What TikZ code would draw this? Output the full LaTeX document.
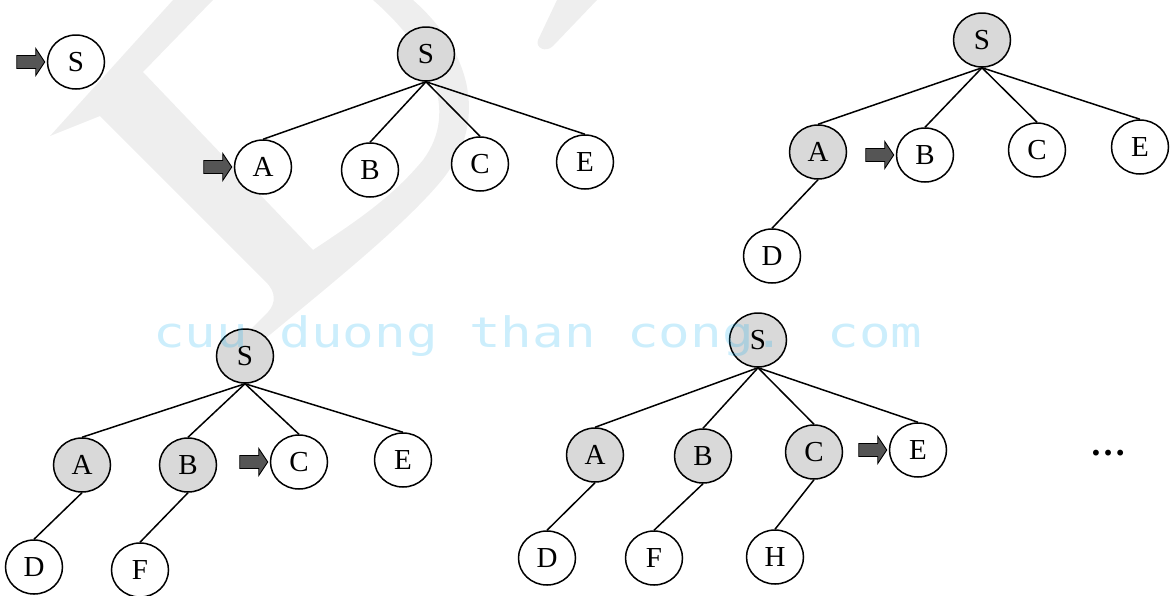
\documentclass[tikz,border=0pt]{standalone}
\usepackage{fontspec}
\setmainfont{Liberation Serif}
\newfontfamily\wmfont{DejaVu Sans Mono}
\usetikzlibrary{shapes.geometric}
\definecolor{visited}{gray}{0.85}
\definecolor{pointerfill}{RGB}{85,85,85}
\definecolor{wmgray}{gray}{0.935}
\definecolor{wmcyan}{RGB}{0,170,240}
\begin{document}
\begin{tikzpicture}[x=1pt,y=-1pt,
  state/.style={ellipse, draw, line width=1.5pt, fill=white,
    minimum width=57pt, minimum height=54pt, inner sep=0pt,
    font=\fontsize{29}{30}\selectfont},
  done/.style={state, fill=visited},
  link/.style={line width=1.5pt},
  ptr/.style={draw, line width=0.9pt, fill=pointerfill, line join=miter},
  pointer/.pic={\path[ptr] (-28,-6.5) -- (-9,-6.5) -- (-9,-13.5) -- (0,0)
    -- (-9,13.5) -- (-9,6.5) -- (-28,6.5) -- cycle;}
]
\useasboundingbox (0,0) rectangle (1172,595);

% faint background letter
\fill[wmgray] (173,0) -- (50,136) -- (100,116) -- (266,282)
  .. controls (276,292) and (276,303) .. (268,312) -- (248,332) -- (266,338)
  .. controls (330,285) and (405,225) .. (442,180)
  .. controls (490,120) and (470,50) .. (413,0)
  -- (373,0)
  .. controls (430,50) and (460,110) .. (423,160)
  .. controls (390,200) and (350,225) .. (313,250)
  -- (143,72) -- (213,0) -- cycle;
\fill[wmgray] (557,0) -- (538,40) .. controls (535,48) and (546,53) .. (553,46)
  -- (597,0) -- cycle;

% step 0
\node[state] (p0s) at (76,62) {S};

% step 1
\node[done]  (p1s) at (426,54) {S};
\node[state] (p1a) at (263,167) {A};
\node[state] (p1b) at (370,170) {B};
\node[state] (p1c) at (480,164) {C};
\node[state] (p1e) at (585,162) {E};

% step 2
\node[done]  (p2s) at (982,40) {S};
\node[done]  (p2a) at (818,152) {A};
\node[state] (p2b) at (925,155) {B};
\node[state] (p2c) at (1037,150) {C};
\node[state] (p2e) at (1140,147) {E};
\node[state] (p2d) at (772,256) {D};

% step 3
\node[done]  (p3s) at (245,356) {S};
\node[done]  (p3a) at (82,465) {A};
\node[done]  (p3b) at (188,465) {B};
\node[state] (p3c) at (299,462) {C};
\node[state] (p3e) at (403,460) {E};
\node[state] (p3d) at (34,567) {D};
\node[state] (p3f) at (140,570) {F};

% step 4
\node[done]  (p4s) at (758,340) {S};
\node[done]  (p4a) at (595,455) {A};
\node[done]  (p4b) at (703,456) {B};
\node[done]  (p4c) at (814,452) {C};
\node[state] (p4e) at (918,450) {E};
\node[state] (p4d) at (547,558) {D};
\node[state] (p4f) at (654,558) {F};
\node[state] (p4h) at (775,557) {H};
\node[font=\fontsize{36}{40}\selectfont\bfseries] (more) at (1108,453) {…};

% tree edges
\foreach \c in {a,b,c,e} \draw[link] (p1s.south) -- (p1\c.north);
\foreach \c in {a,b,c,e} \draw[link] (p2s.south) -- (p2\c.north);
\draw[link] (p2a.south) -- (p2d.north);
\foreach \c in {a,b,c,e} \draw[link] (p3s.south) -- (p3\c.north);
\draw[link] (p3a.south) -- (p3d.north);
\draw[link] (p3b.south) -- (p3f.north);
\foreach \c in {a,b,c,e} \draw[link] (p4s.south) -- (p4\c.north);
\draw[link] (p4a.south) -- (p4d.north);
\draw[link] (p4b.south) -- (p4f.north);
\draw[link] (p4c.south) -- (p4h.north);

% current-node pointers
\pic at ([xshift=-2pt]p0s.west) {pointer};
\pic at ([xshift=-2pt]p1a.west) {pointer};
\pic at ([xshift=-2pt]p2b.west) {pointer};
\pic at ([xshift=-2pt]p3c.west) {pointer};
\pic at ([xshift=-2pt]p4e.west) {pointer};

% overlay text
\node[anchor=base west, inner sep=0pt, text=wmcyan, text opacity=0.2] (mark)
  at (153,347) {\scalebox{1.25}[1]{\wmfont\fontsize{42}{44}\selectfont cuu duong than cong. com}};
\end{tikzpicture}
\end{document}
